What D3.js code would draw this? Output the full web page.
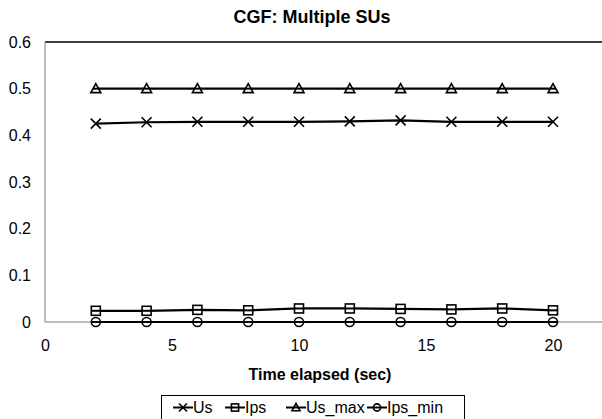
<!DOCTYPE html>
<html>
<head>
<meta charset="utf-8">
<script src="https://cdn.jsdelivr.net/npm/d3@7"></script>
<style>
  body { margin: 0; background: #fff; }
  svg { display: block; font-family: "Liberation Sans", Arial, sans-serif; }
</style>
</head>
<body>
<svg width="602" height="419"></svg>
<script>
// values
const times = [2, 4, 6, 8, 10, 12, 14, 16, 18, 20];
const us = [0.425, 0.428, 0.429, 0.429, 0.429, 0.430, 0.432, 0.429, 0.429, 0.429];
const ips = [0.024, 0.024, 0.026, 0.025, 0.029, 0.029, 0.028, 0.027, 0.029, 0.025];
const usMax = [0.5, 0.5, 0.5, 0.5, 0.5, 0.5, 0.5, 0.5, 0.5, 0.5];
const ipsMin = [0, 0, 0, 0, 0, 0, 0, 0, 0, 0];
const seriesNames = ["Us", "Ips", "Us_max", "Ips_min"];
const seriesMarkers = ["cross", "square", "triangle", "circle"];
const xTicks = [0, 5, 10, 15, 20];
const yTicks = [0, 0.1, 0.2, 0.3, 0.4, 0.5, 0.6];

const svg = d3.select("svg");
const plotL = 45, plotR = 602, plotT = 42, plotB = 322;

const x = d3.scaleLinear().domain([0, 20]).range([plotL, 553]);
const y = d3.scaleLinear().domain([0, 0.6]).range([plotB, plotT]);

const seriesData = [us, ips, usMax, ipsMin].map((vals, i) => ({
    name: seriesNames[i],
    marker: seriesMarkers[i],
    points: times.map((t, j) => ({ t: t, v: vals[j] }))
}));

// title
svg.append("text")
    .attr("x", 312).attr("y", 23)
    .attr("text-anchor", "middle")
    .style("font-weight", "bold").style("font-size", "18px")
    .text("CGF: Multiple SUs");

// frame: black top line, gray left / bottom axes
svg.append("line").attr("x1", plotL).attr("x2", plotR).attr("y1", plotT).attr("y2", plotT)
    .attr("stroke", "#000").attr("stroke-width", 1.5);
svg.append("line").attr("x1", plotL).attr("x2", plotL).attr("y1", plotT).attr("y2", plotB)
    .attr("stroke", "#808080").attr("stroke-width", 1);
svg.append("line").attr("x1", plotL).attr("x2", plotR).attr("y1", plotB).attr("y2", plotB)
    .attr("stroke", "#808080").attr("stroke-width", 1);

// axes (labels only, no tick marks)
const yAxis = svg.append("g").attr("transform", `translate(${plotL},0)`)
    .call(d3.axisLeft(y).tickValues(yTicks).tickSize(0).tickPadding(14)
        .tickFormat(d => d === 0 ? "0" : d3.format(".1f")(d)));
yAxis.select(".domain").remove();
yAxis.selectAll("text").style("font-size", "16px").attr("fill", "#000")
    .style("font-family", "Liberation Sans, Arial, sans-serif");

const xAxis = svg.append("g").attr("transform", `translate(0,${plotB})`)
    .call(d3.axisBottom(x).tickValues(xTicks).tickSize(0).tickPadding(18));
xAxis.select(".domain").remove();
xAxis.selectAll("text").style("font-size", "16px").attr("fill", "#000")
    .style("font-family", "Liberation Sans, Arial, sans-serif");

svg.append("text")
    .attr("x", 320).attr("y", 380)
    .attr("text-anchor", "middle")
    .style("font-weight", "bold").style("font-size", "16px")
    .text("Time elapsed (sec)");

// marker drawing
function drawMarker(g, type, cx, cy, sz) {
    const h = sz / 2;
    if (type === "cross") {
        g.append("path")
            .attr("d", `M${cx - h},${cy - h}L${cx + h},${cy + h}M${cx - h},${cy + h}L${cx + h},${cy - h}`)
            .attr("stroke", "#000").attr("stroke-width", 1.6).attr("fill", "none");
    } else if (type === "square") {
        g.append("rect").attr("x", cx - h * 0.9).attr("y", cy - h * 0.9).attr("width", sz * 0.9).attr("height", sz * 0.9)
            .attr("fill", "#fff").attr("stroke", "#000").attr("stroke-width", 1.6);
        g.append("line").attr("x1", cx - h * 0.9).attr("x2", cx + h * 0.9).attr("y1", cy).attr("y2", cy)
            .attr("stroke", "#000").attr("stroke-width", 2);
    } else if (type === "triangle") {
        g.append("path")
            .attr("d", `M${cx},${cy - h}L${cx + h},${cy + h * 0.8}L${cx - h},${cy + h * 0.8}Z`)
            .attr("fill", "#fff").attr("stroke", "#000").attr("stroke-width", 1.6);
        g.append("line").attr("x1", cx - h * 0.6).attr("x2", cx + h * 0.6).attr("y1", cy).attr("y2", cy)
            .attr("stroke", "#000").attr("stroke-width", 2);
    } else if (type === "circle") {
        g.append("circle").attr("cx", cx).attr("cy", cy).attr("r", h * 0.9)
            .attr("fill", "#fff").attr("stroke", "#000").attr("stroke-width", 1.6);
        g.append("line").attr("x1", cx - h * 0.9).attr("x2", cx + h * 0.9).attr("y1", cy).attr("y2", cy)
            .attr("stroke", "#000").attr("stroke-width", 2);
    }
}

const line = d3.line().x(d => x(d.t)).y(d => y(d.v));

seriesData.forEach(s => {
    const g = svg.append("g");
    g.append("path").datum(s.points)
        .attr("d", line)
        .attr("fill", "none").attr("stroke", "#000").attr("stroke-width", 2.2);
    s.points.forEach(p => drawMarker(g, s.marker, x(p.t), y(p.v), 10));
});

// legend
const legend = svg.append("g");
legend.append("rect").attr("x", 161.5).attr("y", 395.5).attr("width", 303).attr("height", 28)
    .attr("fill", "#fff").attr("stroke", "#000").attr("stroke-width", 1);
const legendX = [173, 225, 286, 367];
seriesData.forEach((s, i) => {
    const lx = legendX[i], ly = 407.5;
    legend.append("line").attr("x1", lx).attr("x2", lx + 20).attr("y1", ly).attr("y2", ly)
        .attr("stroke", "#000").attr("stroke-width", 2);
    drawMarker(legend, s.marker, lx + 10, ly, 8);
    legend.append("text").attr("x", lx + 20).attr("y", 413)
        .style("font-size", "16px").text(s.name);
});
</script>
</body>
</html>
